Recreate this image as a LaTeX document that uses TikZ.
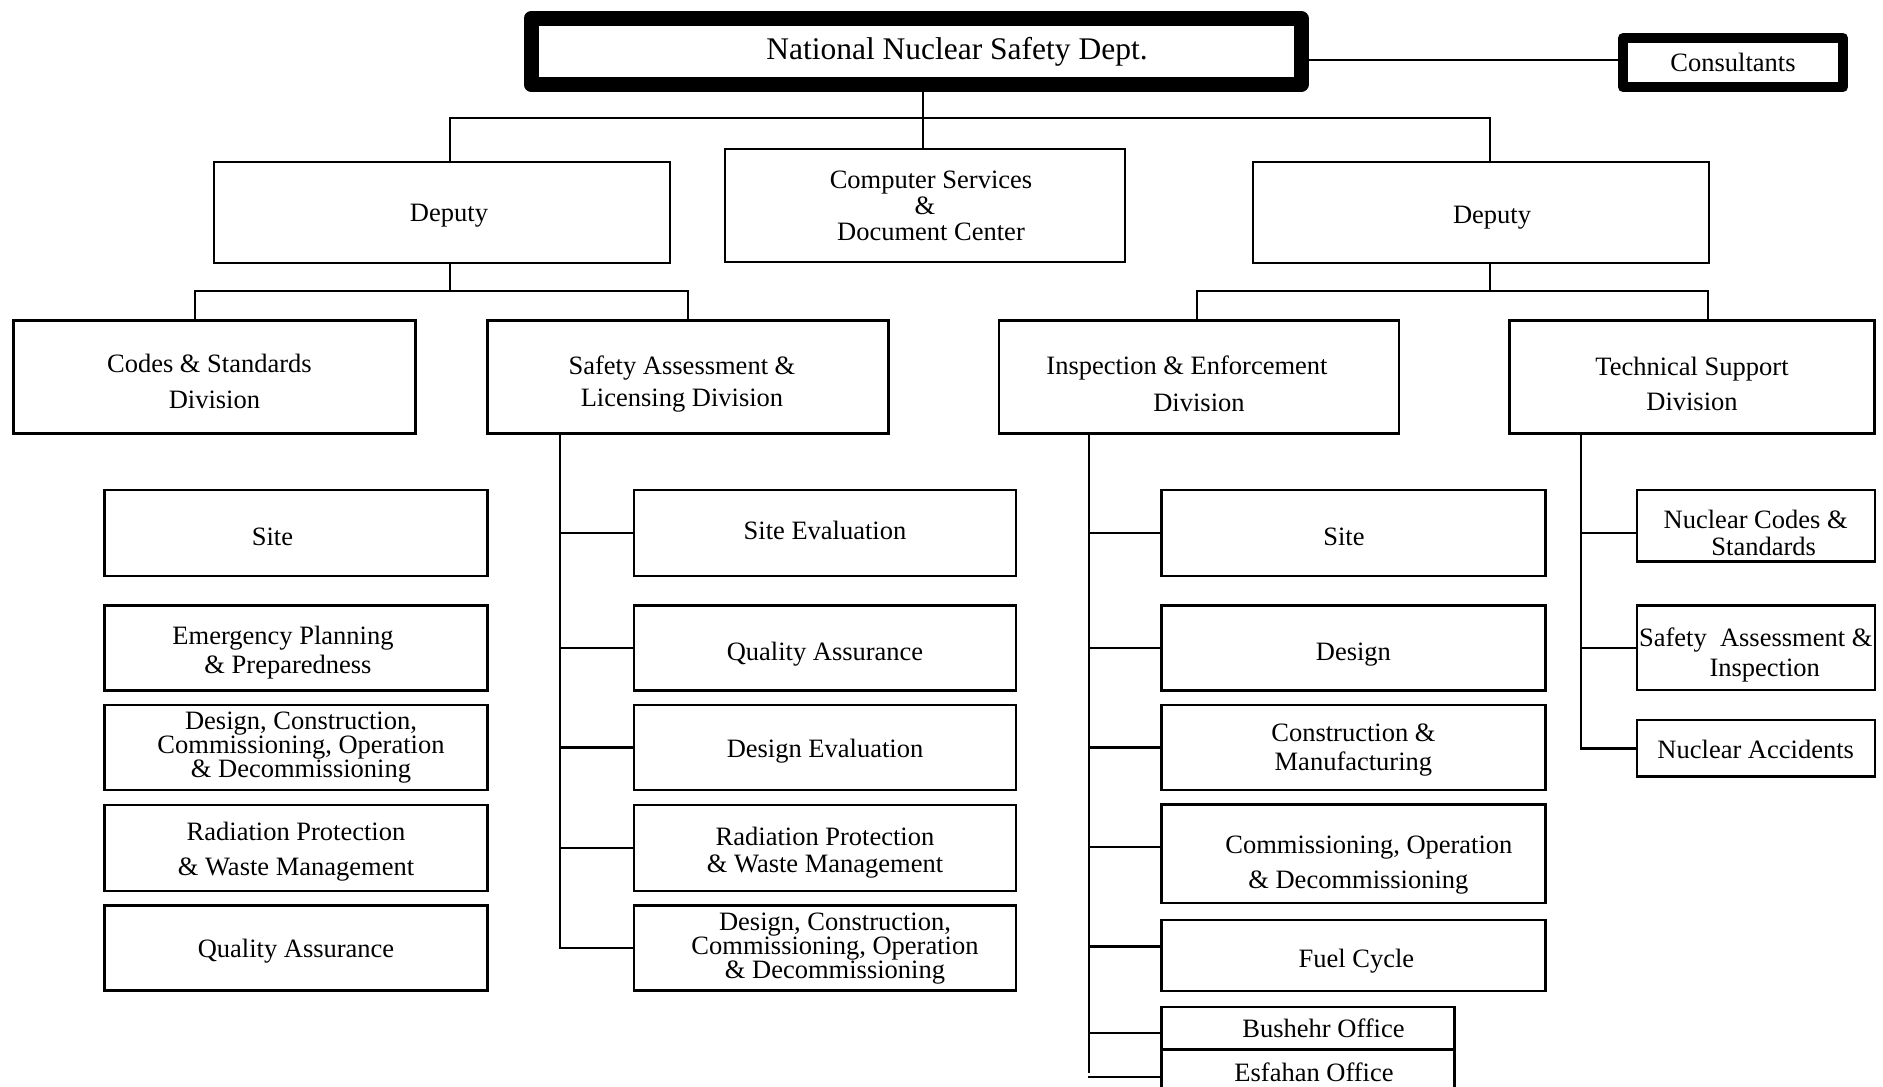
\documentclass[tikz,border=0pt]{standalone}
\usepackage{fontspec}
\setmainfont{Liberation Serif}

\begin{document}
\begin{tikzpicture}[x=1pt,y=-1pt,
  box/.style={draw=black,line width=2.4pt,inner sep=0pt,align=center,font=\fontsize{26.5}{30}\selectfont,text depth=0pt,text height=25pt},
  natural/.style={text depth={},text height={}},
  leading/.style={font=\fontsize{26.5}{#1}\selectfont},
  link/.style={draw=black,line width=2.4pt,line cap=rect}]
\clip (0,0) rectangle (1883,1087);
% the head of the chart
\node[box,natural,line width=15pt,line join=round,minimum width=770pt,minimum height=66pt,font=\fontsize{31.5}{36}\selectfont] (nnsd) at (916,51.5) {\hspace*{82pt}National Nuclear Safety Dept.};
\node[box,natural,line width=10pt,line join=round,minimum width=220pt,minimum height=49pt] (cons) at (1733,62.5) {Consultants};
%% second row
\node[box,text height=17pt,minimum width=456pt,minimum height=101pt] (depl) at (442,212.5) {\hspace*{14pt}Deputy};
\node[box,natural,leading=26,minimum width=400pt,minimum height=113pt] (csdc) at (925,205.4) {\hspace*{12pt}Computer Services\\ \&\\ \hspace*{12pt}Document Center};
\node[box,text height=22pt,minimum width=456pt,minimum height=101pt] (depr) at (1481,212.5) {\hspace*{22pt}Deputy};
%% the divisions
\node[box,text height=63.6pt,leading=36,minimum width=402pt,minimum height=113pt] (csd) at (214.4,377) {Codes \& Standards\hspace*{10pt}\\ Division};
\node[box,text height=58.7pt,leading=32,minimum width=401pt,minimum height=113pt] (sald) at (688,377) {Safety Assessment \&\hspace*{12pt}\\ Licensing Division\hspace*{12pt}};
\node[box,text height=68pt,leading=37,minimum width=400pt,minimum height=113pt] (ied) at (1199,377) {Inspection \& Enforcement\hspace*{24pt}\\ Division};
\node[box,text height=66pt,leading=35,minimum width=365pt,minimum height=113pt] (tsd) at (1692,377) {Technical Support\\ Division};
%% codes and standards column
\node[box,minimum width=383pt,minimum height=86pt] (cs1) at (296,533.2) {Site\hspace*{47pt}};
\node[box,text height=51pt,leading=29,minimum width=383pt,minimum height=85pt] (cs2) at (296,648) {Emergency Planning\hspace*{26pt}\\ \& Preparedness\hspace*{16pt}};
\node[box,text height=60.3pt,leading=21.6,minimum width=383pt,minimum height=85pt] (cs3) at (296,747.6) {\hspace*{10pt}Design, Construction,\\ \hspace*{10pt}Commissioning, Operation\\ \hspace*{10pt}\& Decommissioning};
\node[box,text height=55.7pt,leading=35,minimum width=383pt,minimum height=86pt] (cs4) at (296,848) {Radiation Protection\\ \& Waste Management};
\node[box,text height=19.6pt,minimum width=383pt,minimum height=85pt] (cs5) at (296,948) {Quality Assurance};
%% licensing column
\node[box,text height=13.2pt,minimum width=382pt,minimum height=86pt] (sa1) at (825,533.2) {Site Evaluation};
\node[box,text height=24.4pt,minimum width=382pt,minimum height=85pt] (sa2) at (825,648) {Quality Assurance};
\node[box,text height=19.6pt,minimum width=382pt,minimum height=85pt] (sa3) at (825,747.6) {Design Evaluation};
\node[box,text height=48.3pt,leading=26.4,minimum width=382pt,minimum height=86pt] (sa4) at (825,848) {Radiation Protection\\ \& Waste Management};
\node[box,text height=60.3pt,leading=24,minimum width=382pt,minimum height=85pt] (sa5) at (825,948) {\hspace*{20pt}Design, Construction,\\ \hspace*{20pt}Commissioning, Operation\\ \hspace*{20pt}\& Decommissioning};
%% inspection column
\node[box,minimum width=384pt,minimum height=86pt] (ie1) at (1353.4,533.2) {Site\hspace*{19pt}};
\node[box,text height=24.4pt,minimum width=384pt,minimum height=85pt] (ie2) at (1353.4,648) {Design};
\node[box,text height=46pt,leading=29,minimum width=384pt,minimum height=85pt] (ie3) at (1353.4,747.6) {Construction \&\\ Manufacturing};
\node[box,text height=69pt,leading=35,minimum width=384pt,minimum height=98.5pt] (ie4) at (1353.4,853.8) {\hspace*{31pt}Commissioning, Operation\\ \hspace*{10pt}\& Decommissioning};
\node[box,text height=24.4pt,minimum width=384pt,minimum height=71pt] (ie5) at (1353.4,955.3) {\hspace*{6pt}Fuel Cycle};
\node[box,natural,minimum width=293pt,minimum height=42.6pt] (ie6) at (1308,1028) {\hspace*{31pt}Bushehr Office};
\node[box,natural,minimum width=293pt,minimum height=46pt] (ie7) at (1308,1072) {\hspace*{12pt}Esfahan Office};
%% technical support column
\node[box,text height=59pt,leading=26.7,minimum width=238pt,minimum height=71.7pt] (ts1) at (1755.7,525.8) {Nuclear Codes \&\\ \hspace*{16pt}Standards};
\node[box,text height=58pt,leading=30,minimum width=238pt,minimum height=84.3pt] (ts2) at (1755.7,647.8) {Safety\ \ Assessment \&\\ \hspace*{18pt}Inspection};
\node[box,text height=20.4pt,minimum width=238pt,minimum height=56.7pt] (ts3) at (1755.7,748.3) {Nuclear Accidents};
%% bus points
\coordinate (hub) at (923,118);
\coordinate (busl) at (450,118);
\coordinate (busr) at (1490,118);
\coordinate (dlw) at (195,291);
\coordinate (dle) at (688,291);
\coordinate (drw) at (1197,291);
\coordinate (dre) at (1708,291);
\coordinate (v2) at (560,0);
\coordinate (v3) at (1089,0);
\coordinate (v4) at (1581,0);
% the lines
\draw[link] ([yshift=2.5pt]cons.west -| nnsd.east) -- ([yshift=2.5pt]cons.west);
\draw[link] (hub |- nnsd.south) -- (hub |- csdc.north);
\draw[link] (busl |- depl.north) -- (busl) -- (busr) -- (busr |- depr.north);
\draw[link] (busl |- depl.south) -- (busl |- dlw);
\draw[link] (dlw |- csd.north) -- (dlw) -- (dle) -- (dle |- sald.north);
\draw[link] (busr |- depr.south) -- (busr |- drw);
\draw[link] (drw |- ied.north) -- (drw) -- (dre) -- (dre |- tsd.north);
%% licensing branches
\draw[link] (v2 |- sald.south) -- (v2 |- sa5.west);
\draw[link] (v2 |- sa1.west) -- (sa1.west);
\draw[link] (v2 |- sa2.west) -- (sa2.west);
\draw[link] (v2 |- sa3.west) -- (sa3.west);
\draw[link] (v2 |- sa4.west) -- (sa4.west);
\draw[link] (v2 |- sa5.west) -- (sa5.west);
%% inspection branches
\draw[link] (v3 |- ied.south) -- (v3 |- ie7.west);
\draw[link] (v3 |- ie1.west) -- (ie1.west);
\draw[link] (v3 |- ie2.west) -- (ie2.west);
\draw[link] (v3 |- ie3.west) -- (ie3.west);
\draw[link] ([yshift=7pt]v3 |- ie4.west) -- ([yshift=7pt]ie4.west);
\draw[link] ([yshift=9pt]v3 |- ie5.west) -- ([yshift=9pt]ie5.west);
\draw[link] ([yshift=-4.7pt]v3 |- ie6.west) -- ([yshift=-4.7pt]ie6.west);
\draw[link] ([yshift=-4.7pt]v3 |- ie7.west) -- ([yshift=-4.7pt]ie7.west);
%% technical support branches
\draw[link] (v4 |- tsd.south) -- (v4 |- ts3.west);
\draw[link] ([yshift=-7pt]v4 |- ts1.west) -- ([yshift=-7pt]ts1.west);
\draw[link] (v4 |- ts2.west) -- (ts2.west);
\draw[link] (v4 |- ts3.west) -- (ts3.west);
\end{tikzpicture}
\end{document}
